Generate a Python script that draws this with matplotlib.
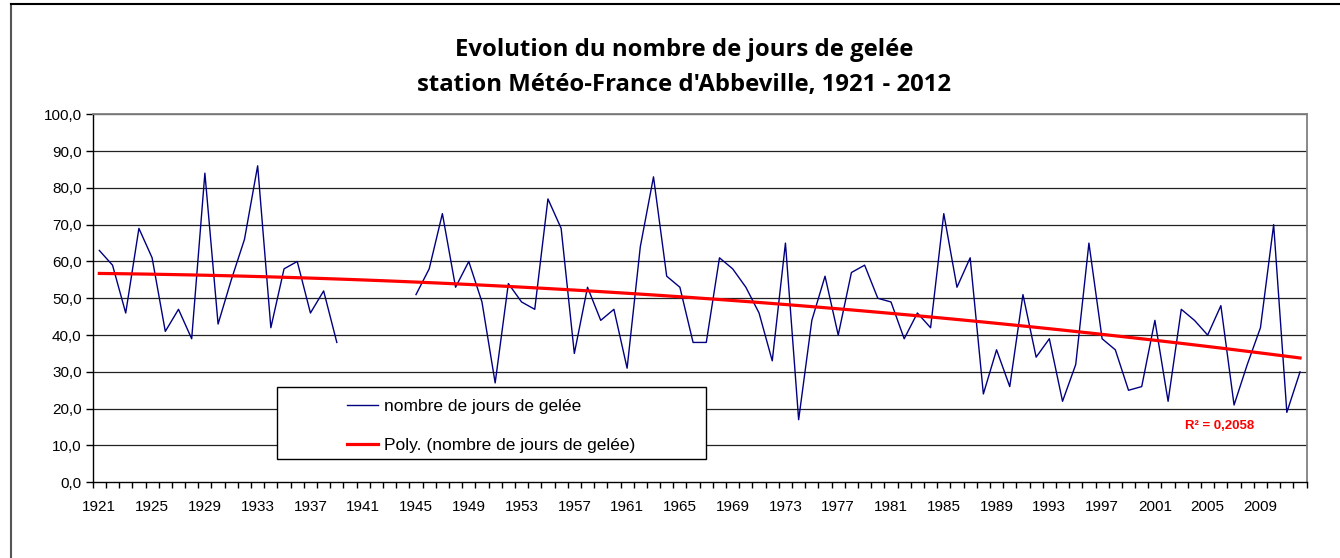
import numpy as np
import matplotlib.pyplot as plt
from matplotlib.lines import Line2D
from matplotlib.patches import Rectangle

years = list(range(1921, 2013))
nan = np.nan
jours_gel = [63, 59, 46, 69, 61, 41, 47, 39, 84, 43,
             55, 66, 86, 42, 58, 60, 46, 52, 38, nan,
             nan, nan, nan, nan, 51, 58, 73, 53, 60, 49,
             27, 54, 49, 47, 77, 69, 35, 53, 44, 47,
             31, 64, 83, 56, 53, 38, 38, 61, 58, 53,
             46, 33, 65, 17, 44, 56, 40, 57, 59, 50,
             49, 39, 46, 42, 73, 53, 61, 24, 36, 26,
             51, 34, 39, 22, 32, 65, 39, 36, 25, 26,
             44, 22, 47, 44, 40, 48, 21, 32, 42, 70,
             19, 30]
r2_label = "R² = 0,2058"


def make_plot():
    vals = np.array(jours_gel, dtype=float)
    idx = np.arange(len(years))

    # polynomial trend (order 2), like the Excel trendline
    ok = ~np.isnan(vals)
    coef = np.polyfit(idx[ok] + 1, vals[ok], 2)
    trend = np.polyval(coef, idx + 1)

    fig = plt.figure(figsize=(13.4, 5.58), dpi=100)
    fig.patch.set_facecolor("white")
    ax = fig.add_axes([0.0692, 0.1357, 0.9059, 0.6595])

    for v in range(10, 101, 10):
        ax.axhline(v, color="#222222", lw=0.9, zorder=1)

    ax.plot(idx, vals, color="#000080", lw=1.0, zorder=3)
    ax.plot(idx, trend, color="#FF0000", lw=2.3, zorder=3)

    ax.set_xlim(-0.5, len(years) - 0.5)
    ax.set_ylim(0, 100)

    ax.set_yticks(np.arange(0, 101, 10))
    ax.set_yticklabels(["%d,0" % v for v in range(0, 101, 10)])
    ax.set_xticks(idx[::4])
    ax.set_xticklabels([str(y) for y in years[::4]])
    ax.set_xticks(np.arange(-0.5, len(years), 1), minor=True)
    ax.tick_params(axis="x", which="major", length=0, pad=13, labelsize=11)
    ax.tick_params(axis="x", which="minor", length=4.5, width=1, direction="out")
    ax.tick_params(axis="y", length=5, width=1, direction="out", pad=3, labelsize=11)

    for s in ["left", "bottom"]:
        ax.spines[s].set_color("black")
        ax.spines[s].set_linewidth(1.0)
    for s in ["top", "right"]:
        ax.spines[s].set_color("#808080")
        ax.spines[s].set_linewidth(1.3)

    # legend box
    ax.add_patch(Rectangle((0.1516, 0.0633), 0.3534, 0.1965, transform=ax.transAxes,
                           facecolor="white", edgecolor="black", lw=1.0, zorder=4))
    h1 = Line2D([], [], color="#000080", lw=1.0)
    h2 = Line2D([], [], color="#FF0000", lw=2.3)
    ax.legend([h1, h2], ["nombre de jours de gelée", "Poly. (nombre de jours de gelée)"],
              loc="center", bbox_to_anchor=(0.1516 + 0.3534 / 2, 0.0633 + 0.1965 / 2 - 0.009),
              frameon=False, fontsize=12.5, handlelength=1.75, handletextpad=0.35,
              labelspacing=1.35).set_zorder(5)

    ax.text(0.928, 0.1522, r2_label, transform=ax.transAxes, color="#FF0000",
            fontsize=9.5, fontweight="bold", ha="center", va="center", zorder=5)

    fig.text(0.5104, 1 - 55.7 / 558, "Evolution du nombre de jours de gelée",
             ha="center", va="baseline", fontsize=17.2, fontweight="bold", family="Open Sans")
    fig.text(0.5104, 1 - 90.7 / 558, "station Météo-France d'Abbeville, 1921 - 2012",
             ha="center", va="baseline", fontsize=17.2, fontweight="bold", family="Open Sans")

    # chart area frame
    fig.add_artist(Line2D([11 / 1340, 11 / 1340], [0, 1 - 4 / 558], color="#555555", lw=1.5))
    fig.add_artist(Line2D([11 / 1340, 1], [1 - 4 / 558, 1 - 4 / 558], color="black", lw=1.5))

    fig.savefig("out.png", dpi=100)


if __name__ == "__main__":
    plt.rcParams["font.family"] = ["Liberation Sans", "DejaVu Sans"]
    make_plot()
